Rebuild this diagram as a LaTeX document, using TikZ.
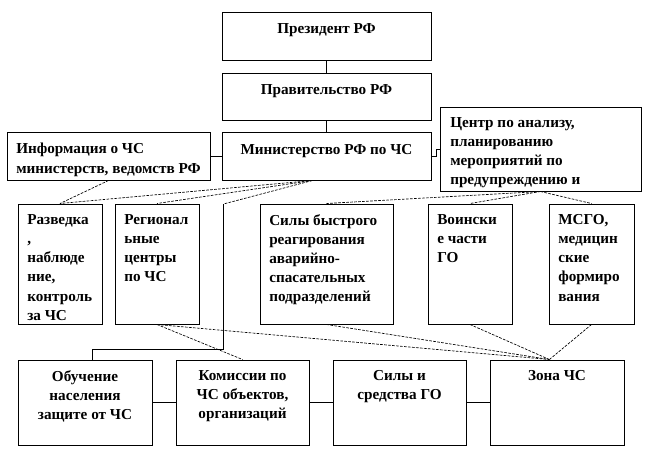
\documentclass[tikz,border=0pt]{standalone}
\usepackage{fontspec}
\setmainfont{Liberation Serif}
\usetikzlibrary{fit}

\begin{document}
\begin{tikzpicture}[x=0.75pt,y=0.75pt,yscale=-1,xscale=1,
  box/.style={draw, line width=0.75pt, inner sep=0pt},
  lbl/.style={inner sep=0pt, font=\bfseries\fontsize{11.4}{14.4}\selectfont},
  link/.style={line width=0.75pt},
  dlink/.style={line width=0.5pt, dash pattern=on 2pt off 1pt}
]
\useasboundingbox (0,0) rectangle (646,468);

\node [box, fit={(222,12) (431,60)}] (pres) {};
\node [box, fit={(222,73) (431,120)}] (prav) {};
\node [box, fit={(222,132) (431,180)}] (min) {};
\node [box, fit={(7,132) (210,180)}] (info) {};
\node [box, fit={(440,107) (641,191)}] (centr) {};

\node [box, fit={(18,204) (102,324)}] (razv) {};
\node [box, fit={(115,204) (199,324)}] (reg) {};
\node [box, fit={(260,204) (393,324)}] (sbr) {};
\node [box, fit={(428,204) (512,324)}] (voin) {};
\node [box, fit={(549,204) (634,324)}] (msgo) {};

\node [box, fit={(18,360) (152,445)}] (obuch) {};
\node [box, fit={(176,360) (309,445)}] (kom) {};
\node [box, fit={(333,360) (466,445)}] (sgo) {};
\node [box, fit={(490,360) (624,445)}] (zona) {};

\node [lbl, anchor=north] (pres-t) at (326.5,23) {Президент РФ};
\node [lbl, anchor=north] (prav-t) at (326.5,84) {Правительство РФ};
\node [lbl, anchor=north] (min-t) at (326.5,144) {Министерство РФ по ЧС};
\node [lbl, anchor=north west, align=left] (info-t) at (16,143) {Информация о ЧС\\министерств, ведомств РФ};
\node [lbl, anchor=north west, align=left] (centr-t) at (450,117) {Центр по анализу,\\планированию\\мероприятий по\\предупреждению и};

\node [lbl, anchor=north west, align=left] (razv-t) at (27,214) {Разведка\\,\\наблюде\\ние,\\контроль\\за ЧС};
\node [lbl, anchor=north west, align=left] (reg-t) at (124,214) {Регионал\\ьные\\центры\\по ЧС};
\node [lbl, anchor=north west, align=left] (sbr-t) at (269,214) {Силы быстрого\\реагирования\\аварийно-\\спасательных\\подразделений};
\node [lbl, anchor=north west, align=left] (voin-t) at (437,214) {Воински\\е части\\ГО};
\node [lbl, anchor=north west, align=left] (msgo-t) at (558,214) {МСГО,\\медицин\\ские\\формиро\\вания};

\node [lbl, anchor=north, align=center] (obuch-t) at (85,370) {Обучение\\населения\\защите от ЧС};
\node [lbl, anchor=north, align=center] (kom-t) at (242.5,370) {Комиссии по\\ЧС объектов,\\организаций};
\node [lbl, anchor=north, align=center] (sgo-t) at (399.5,370) {Силы и\\средства ГО};
\node [lbl, anchor=north, align=center] (zona-t) at (557,370) {Зона ЧС};

% solid links
\draw [link] (pres) -- (prav);
\draw [link] (prav) -- (min);
\draw [link] (info) -- (min);
\draw [link] (min.east) -- ++(5,0) |- (centr.west);
\draw [link] (obuch) -- (kom);
\draw [link] (kom) -- (sgo);
\draw [link] (sgo) -- (zona);
\coordinate (vtop) at (223.5,204);
\coordinate (vbend) at (223.5,349);
\draw [link] (vtop) -- (vbend) -| (obuch.80);

% dashed links
\draw [dlink] (info.south) -- (razv.north);
\draw [dlink] (min.240) -- (razv.north);
\draw [dlink] (min.240) -- (reg.north);
\draw [dlink] (min.240) -- (vtop);
\draw [dlink] (centr.south) -- (sbr.north);
\draw [dlink] (centr.south) -- (voin.north);
\draw [dlink] (centr.south) -- (msgo.north);
\draw [dlink] (reg.south) -- (kom.north);
\draw [dlink] (reg.south) -- (zona.100);
\draw [dlink] (sbr.south) -- (zona.100);
\draw [dlink] (voin.south) -- (zona.100);
\draw [dlink] (msgo.south) -- (zona.100);

\end{tikzpicture}
\end{document}
